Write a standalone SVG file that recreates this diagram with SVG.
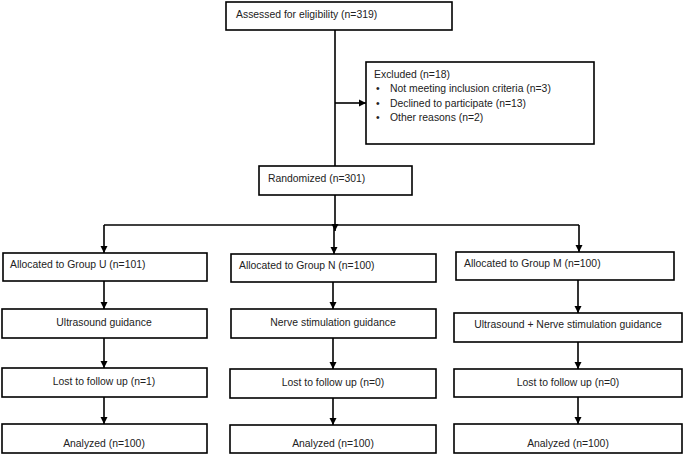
<svg xmlns="http://www.w3.org/2000/svg" width="685" height="455" viewBox="0 0 685 455">
<style>
.box{fill:#fff;stroke:#000;stroke-width:1.6}
text{font-family:"Liberation Sans",Arial,sans-serif;font-size:10.4px;fill:#222}
.c{text-anchor:middle}
.ln{fill:none;stroke:#000;stroke-width:1.6}
</style>
<defs>
<marker id="ah" viewBox="0 0 8 8" refX="8" refY="4" markerWidth="4.5" markerHeight="4.5" orient="auto" markerUnits="strokeWidth">
<path d="M0,0 L8,4 L0,8 Z" fill="#000"/>
</marker>
</defs>
<g id="connectors">
<path class="ln" d="M335,30 V166"/>
<path class="ln" d="M335,103 H366" marker-end="url(#ah)"/>
<path class="ln" d="M335,195 V231" marker-end="url(#ah)"/>
<path class="ln" d="M104,225 H579"/>
<path class="ln" d="M104,225 V253" marker-end="url(#ah)"/>
<path class="ln" d="M334,225 V254" marker-end="url(#ah)"/>
<path class="ln" d="M579,225 V252" marker-end="url(#ah)"/>
<path class="ln" d="M104,281 V309" marker-end="url(#ah)"/>
<path class="ln" d="M333,282 V309" marker-end="url(#ah)"/>
<path class="ln" d="M578,280 V313" marker-end="url(#ah)"/>
<path class="ln" d="M104,338 V368" marker-end="url(#ah)"/>
<path class="ln" d="M333,338 V369" marker-end="url(#ah)"/>
<path class="ln" d="M578,342 V369" marker-end="url(#ah)"/>
<path class="ln" d="M104,397 V424" marker-end="url(#ah)"/>
<path class="ln" d="M333,398 V425" marker-end="url(#ah)"/>
<path class="ln" d="M578,397 V424" marker-end="url(#ah)"/>
</g>
<g id="assessed"><rect class="box" x="226" y="2" width="226" height="28"/><text x="236" y="18">Assessed for eligibility (n=319)</text></g>
<g id="excluded"><rect class="box" x="366" y="62" width="228" height="82"/>
<text x="374" y="78">Excluded (n=18)</text>
<text x="376" y="92">•</text><text x="390" y="92">Not meeting inclusion criteria (n=3)</text>
<text x="376" y="106.5">•</text><text x="390" y="106.5">Declined to participate (n=13)</text>
<text x="376" y="121">•</text><text x="390" y="121">Other reasons (n=2)</text>
</g>
<g id="randomized"><rect class="box" x="259" y="166" width="153" height="29"/><text x="268" y="182">Randomized (n=301)</text></g>
<g id="allocU"><rect class="box" x="3" y="253" width="204" height="28"/><text x="10" y="268">Allocated to Group U (n=101)</text></g>
<g id="allocN"><rect class="box" x="231" y="254" width="205" height="28"/><text x="239" y="269">Allocated to Group N (n=100)</text></g>
<g id="allocM"><rect class="box" x="456" y="252" width="218" height="28"/><text x="464" y="267">Allocated to Group M (n=100)</text></g>
<g id="guideU"><rect class="box" x="2" y="309" width="205" height="29"/><text class="c" x="104" y="326">Ultrasound guidance</text></g>
<g id="guideN"><rect class="box" x="231" y="309" width="205" height="29"/><text class="c" x="333" y="326">Nerve stimulation guidance</text></g>
<g id="guideM"><rect class="box" x="454" y="313" width="228" height="29"/><text class="c" x="568" y="328">Ultrasound + Nerve stimulation guidance</text></g>
<g id="lostU"><rect class="box" x="2" y="368" width="205" height="29"/><text class="c" x="104" y="385">Lost to follow up (n=1)</text></g>
<g id="lostN"><rect class="box" x="230" y="369" width="206" height="29"/><text class="c" x="333" y="386">Lost to follow up (n=0)</text></g>
<g id="lostM"><rect class="box" x="454" y="369" width="228" height="28"/><text class="c" x="568" y="386">Lost to follow up (n=0)</text></g>
<g id="analU"><rect class="box" x="2" y="424" width="205" height="29"/><text class="c" x="104" y="446.5">Analyzed (n=100)</text></g>
<g id="analN"><rect class="box" x="230" y="425" width="206" height="28"/><text class="c" x="333" y="447">Analyzed (n=100)</text></g>
<g id="analM"><rect class="box" x="454" y="424" width="228" height="29"/><text class="c" x="568" y="446.5">Analyzed (n=100)</text></g>
</svg>
